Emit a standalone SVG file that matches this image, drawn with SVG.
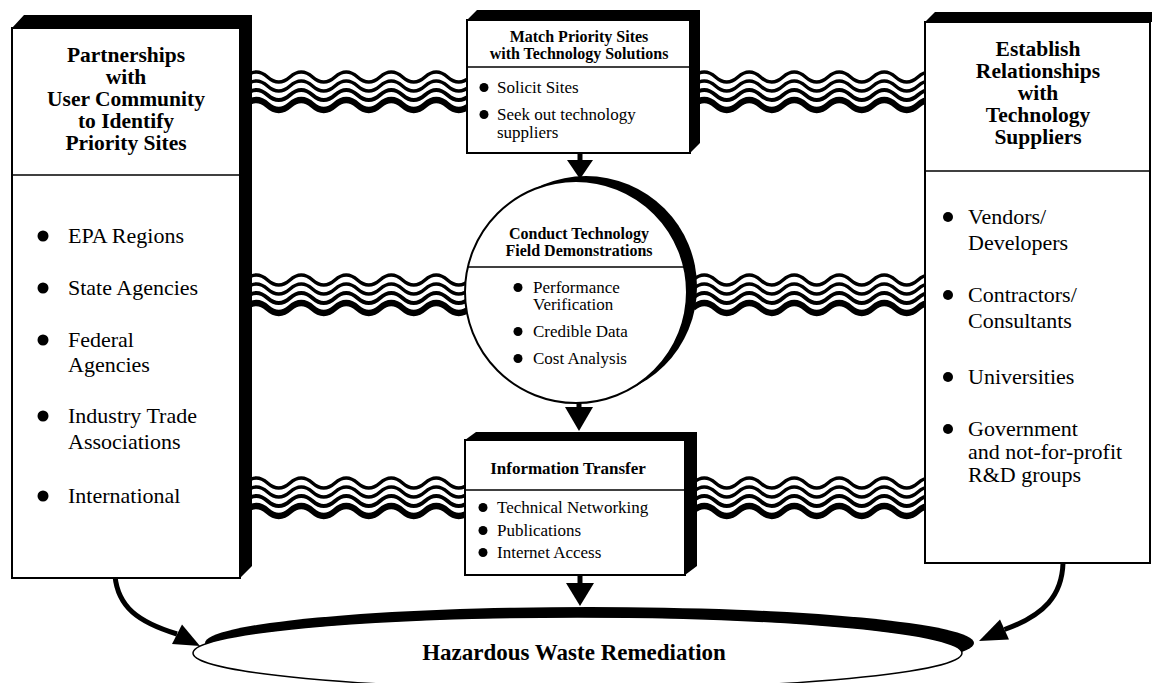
<svg xmlns="http://www.w3.org/2000/svg" xmlns:xlink="http://www.w3.org/1999/xlink" width="1156" height="683" viewBox="0 0 1156 683">
<style>
text{font-family:"Liberation Serif","Times New Roman",serif;fill:#000}
.tb{font-weight:bold;text-anchor:middle}
.ti{font-size:21.5px}
.li{font-size:22px}
.sm{font-size:17px}
.st{font-size:16px}
.face{fill:#fff;stroke:#000;stroke-width:2}
.side{fill:#000}
.div{stroke:#000;stroke-width:1.5}
.w{fill:none;stroke:#000}
.arr{fill:none;stroke:#000;stroke-width:5}
</style>
<defs>
<path id="wl" d="M0 0 q11.25 -10 22.5 0 t22.5 0 t22.5 0 t22.5 0 t22.5 0 t22.5 0 t22.5 0 t22.5 0 t22.5 0 t22.5 0 t22.5 0"/>
<g id="bundle">
<use xlink:href="#wl" class="w" stroke-width="3.5"/>
<use xlink:href="#wl" class="w" stroke-width="3.5" y="9"/>
<use xlink:href="#wl" class="w" stroke-width="4" y="18"/>
<use xlink:href="#wl" class="w" stroke-width="6" y="28"/>
</g>
</defs>
<rect width="1156" height="683" fill="#fff"/>

<g id="connectors">
<use xlink:href="#bundle" x="245" y="77"/>
<use xlink:href="#bundle" x="693" y="77"/>
<use xlink:href="#bundle" x="245" y="280"/>
<use xlink:href="#bundle" x="693" y="280"/>
<use xlink:href="#bundle" x="245" y="483"/>
<use xlink:href="#bundle" x="693" y="483"/>
<line x1="580" y1="152" x2="580" y2="163" stroke="#000" stroke-width="5"/>
<polygon points="567,160 593,160 580,179"/>
<line x1="579" y1="400" x2="579" y2="410" stroke="#000" stroke-width="5"/>
<polygon points="565,407 593,407 579,431"/>
<line x1="580" y1="575" x2="580" y2="586" stroke="#000" stroke-width="5"/>
<polygon points="566,583 594,583 580,606"/>
<path class="arr" d="M115 576 C118 607 138 622 177 634"/>
<polygon points="200,646 172,644 182,624.6"/>
<path class="arr" d="M1063 563 C1062 595 1045 615 1004.5 629.5"/>
<polygon points="979,641 1009,639.5 1000,619.5"/>
</g>

<g id="partners">
<polygon class="side" points="12,28 24,15 252,15 252,566 240,578 240,28"/>
<rect class="face" x="12" y="28" width="228" height="550"/>
<line class="div" x1="12" y1="175" x2="240" y2="175"/>
<text class="tb ti" x="126" y="62">Partnerships</text>
<text class="tb ti" x="126" y="84">with</text>
<text class="tb ti" x="126" y="106">User Community</text>
<text class="tb ti" x="126" y="128">to Identify</text>
<text class="tb ti" x="126" y="150">Priority Sites</text>
<g class="li">
<circle cx="43" cy="236" r="5.5"/><text x="68" y="243">EPA Regions</text>
<circle cx="43" cy="288" r="5.5"/><text x="68" y="295">State Agencies</text>
<circle cx="43" cy="340" r="5.5"/><text x="68" y="347">Federal</text>
<text x="68" y="372">Agencies</text>
<circle cx="43" cy="416" r="5.5"/><text x="68" y="423">Industry Trade</text>
<text x="68" y="449">Associations</text>
<circle cx="43" cy="496" r="5.5"/><text x="68" y="503">International</text>
</g>
</g>

<g id="match">
<polygon class="side" points="467,20 477,10 700,10 700,143 690,153 690,20"/>
<rect class="face" x="467" y="20" width="223" height="133"/>
<line class="div" x1="467" y1="67" x2="690" y2="67"/>
<text class="tb st" x="579" y="42">Match Priority Sites</text>
<text class="tb st" x="579" y="59">with Technology Solutions</text>
<g class="sm">
<circle cx="484" cy="87.5" r="4.5"/><text x="497" y="93">Solicit Sites</text>
<circle cx="484" cy="114.5" r="4.5"/><text x="497" y="120">Seek out technology</text>
<text x="497" y="138">suppliers</text>
</g>
</g>

<g id="demo">
<circle cx="586" cy="287" r="111" fill="#000"/>
<circle cx="576" cy="292" r="111" fill="#fff" stroke="#000" stroke-width="2"/>
<line class="div" x1="468" y1="267" x2="684" y2="267"/>
<text class="tb st" x="579" y="239">Conduct Technology</text>
<text class="tb st" x="579" y="256">Field Demonstrations</text>
<g class="sm">
<circle cx="518" cy="287.5" r="4.5"/><text x="533" y="293">Performance</text>
<text x="533" y="310">Verification</text>
<circle cx="518" cy="331.5" r="4.5"/><text x="533" y="337">Credible Data</text>
<circle cx="518" cy="358.5" r="4.5"/><text x="533" y="364">Cost Analysis</text>
</g>
</g>

<g id="transfer">
<polygon class="side" points="465,440 476,432 697,432 697,566 685,575 685,440"/>
<rect class="face" x="465" y="440" width="220" height="135"/>
<line class="div" x1="465" y1="490" x2="685" y2="490"/>
<text class="tb sm" x="568" y="474">Information Transfer</text>
<g class="sm">
<circle cx="483" cy="507.5" r="4.5"/><text x="497" y="513">Technical Networking</text>
<circle cx="483" cy="530.5" r="4.5"/><text x="497" y="536">Publications</text>
<circle cx="483" cy="552.5" r="4.5"/><text x="497" y="558">Internet Access</text>
</g>
</g>

<g id="suppliers">
<polygon class="side" points="925,22 935,12 1152,12 1152,22"/>
<rect class="face" x="925" y="22" width="225" height="541"/>
<line class="div" x1="925" y1="171" x2="1150" y2="171"/>
<text class="tb ti" x="1038" y="56">Establish</text>
<text class="tb ti" x="1038" y="78">Relationships</text>
<text class="tb ti" x="1038" y="100">with</text>
<text class="tb ti" x="1038" y="122">Technology</text>
<text class="tb ti" x="1038" y="144">Suppliers</text>
<g class="li">
<circle cx="948" cy="217" r="5"/><text x="968" y="224">Vendors/</text>
<text x="968" y="250">Developers</text>
<circle cx="948" cy="295" r="5"/><text x="968" y="302">Contractors/</text>
<text x="968" y="328">Consultants</text>
<circle cx="948" cy="377" r="5"/><text x="968" y="384">Universities</text>
<circle cx="948" cy="429" r="5"/><text x="968" y="436">Government</text>
<text x="968" y="459">and not-for-profit</text>
<text x="968" y="482">R&amp;D groups</text>
</g>
</g>

<g id="remediation">
<ellipse cx="589.5" cy="643" rx="384.5" ry="36" fill="#000"/>
<ellipse cx="577.5" cy="653" rx="384.5" ry="36" fill="#fff" stroke="#000" stroke-width="1.5"/>
<text class="tb" x="574" y="660" font-size="23">Hazardous Waste Remediation</text>
</g>
</svg>
